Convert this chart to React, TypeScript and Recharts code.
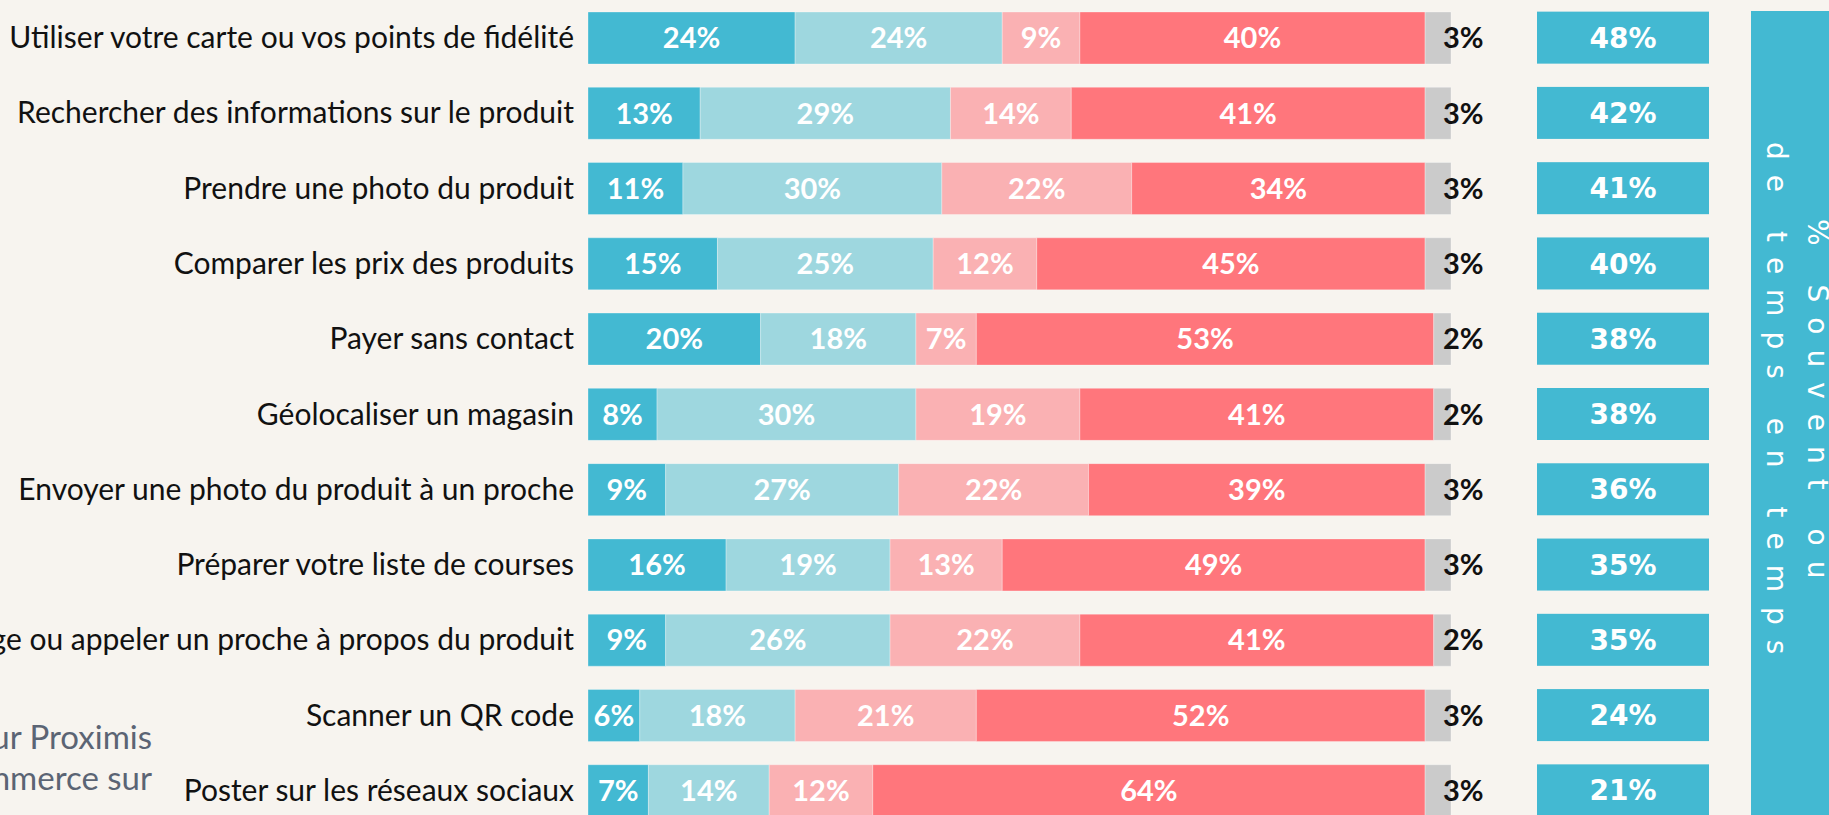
import { BarChart, Bar, XAxis, YAxis, LabelList } from "recharts";

const activities = [
  "Utiliser votre carte ou vos points de fidélité",
  "Rechercher des informations sur le produit",
  "Prendre une photo du produit",
  "Comparer les prix des produits",
  "Payer sans contact",
  "Géolocaliser un magasin",
  "Envoyer une photo du produit à un proche",
  "Préparer votre liste de courses",
  "Envoyer un message ou appeler un proche à propos du produit",
  "Scanner un QR code",
  "Poster sur les réseaux sociaux",
];

const tresSouvent = [24, 13, 11, 15, 20, 8, 9, 16, 9, 6, 7];
const deTempsEnTemps = [24, 29, 30, 25, 18, 30, 27, 19, 26, 18, 14];
const rarement = [9, 14, 22, 12, 7, 19, 22, 13, 22, 21, 12];
const jamais = [40, 41, 34, 45, 53, 41, 39, 49, 41, 52, 64];
const nsp = [3, 3, 3, 3, 2, 2, 3, 3, 2, 3, 3];
const souventTotal = [48, 42, 41, 40, 38, 38, 36, 35, 35, 24, 21];

const data = activities.map((activity, i) => ({
  activity,
  tresSouvent: tresSouvent[i],
  deTempsEnTemps: deTempsEnTemps[i],
  rarement: rarement[i],
  jamais: jamais[i],
  nsp: nsp[i],
  souvent: souventTotal[i],
}));

const BG = "#F7F4EF";
const TEAL = "#43B9D2";
const pct = (v: any) => `${v}%`;

function LeftTick(props: any) {
  const { x, y, payload } = props;
  return (
    <text
      x={x}
      y={y}
      dy="0.35em"
      textAnchor="end"
      fill="#111"
      fontFamily="Lato"
      fontSize={30}
    >
      {payload.value}
    </text>
  );
}

function TotalTick(props: any) {
  const { x, y, index } = props;
  const row = data[index];
  if (!row) return null;
  return (
    <g>
      <rect x={x + 86} y={y - 26} width={172} height={52} fill={TEAL} />
      <text
        x={x + 172}
        y={y}
        dy="0.36em"
        textAnchor="middle"
        fill="#fff"
        fontFamily="DejaVu Sans"
        fontWeight="bold"
        fontSize={28}
      >
        {row.souvent}%
      </text>
    </g>
  );
}

const inner = {
  fill: "#fff",
  fontFamily: "Lato",
  fontWeight: 700,
  fontSize: 29,
};

export default function App() {
  return (
    <div
      style={{
        position: "absolute",
        left: 0,
        top: 0,
        width: 1829,
        height: 815,
        overflow: "hidden",
        background: BG,
      }}
    >
      <BarChart
        layout="vertical"
        width={1829}
        height={828}
        data={data}
        margin={{ top: 0, right: 0, bottom: 0, left: 0 }}
        barSize={52}
      >
        <XAxis type="number" domain={[0, 100]} hide />
        <YAxis
          yAxisId="left"
          type="category"
          dataKey="activity"
          width={588}
          axisLine={false}
          tickLine={false}
          tickSize={0}
          tickMargin={14}
          interval={0}
          tick={<LeftTick />}
        />
        <YAxis
          yAxisId="right"
          orientation="right"
          type="category"
          dataKey="activity"
          width={378}
          axisLine={false}
          tickLine={false}
          tickSize={0}
          tickMargin={0}
          interval={0}
          tick={<TotalTick />}
        />
        <Bar yAxisId="left" dataKey="tresSouvent" stackId="s" fill={TEAL} stroke="rgba(255,255,255,0.3)" isAnimationActive={false}>
          <LabelList dataKey="tresSouvent" position="center" formatter={pct} style={inner} />
        </Bar>
        <Bar yAxisId="left" dataKey="deTempsEnTemps" stackId="s" fill="#9ED7DF" stroke="rgba(255,255,255,0.3)" isAnimationActive={false}>
          <LabelList dataKey="deTempsEnTemps" position="center" formatter={pct} style={inner} />
        </Bar>
        <Bar yAxisId="left" dataKey="rarement" stackId="s" fill="#FAB1B3" stroke="rgba(255,255,255,0.3)" isAnimationActive={false}>
          <LabelList dataKey="rarement" position="center" formatter={pct} style={inner} />
        </Bar>
        <Bar yAxisId="left" dataKey="jamais" stackId="s" fill="#FF767C" stroke="rgba(255,255,255,0.3)" isAnimationActive={false}>
          <LabelList dataKey="jamais" position="center" formatter={pct} style={inner} />
        </Bar>
        <Bar yAxisId="left" dataKey="nsp" stackId="s" fill="#CBCBCB" stroke="rgba(255,255,255,0.3)" isAnimationActive={false}>
          <LabelList
            dataKey="nsp"
            position="right"
            offset={-8}
            formatter={pct}
            style={{ fill: "#111", fontFamily: "Lato", fontWeight: 700, fontSize: 29 }}
          />
        </Bar>
      </BarChart>

      <div
        style={{
          position: "absolute",
          left: 1751,
          top: 11,
          width: 120,
          height: 900,
          background: TEAL,
        }}
      />
      <div
        style={{
          position: "absolute",
          left: 1756,
          top: 11,
          width: 82,
          height: 790,
          writingMode: "vertical-rl",
          textAlign: "center",
          lineHeight: "41px",
          color: "#fff",
          fontFamily: "DejaVu Sans",
          fontSize: 28,
          letterSpacing: 15,
          whiteSpace: "nowrap",
        }}
      >
        % Souvent ou
        <br />
        de temps en temps
      </div>

      <div
        style={{
          position: "absolute",
          right: 1829 - 152,
          top: 716,
          lineHeight: "41px",
          color: "#5B6474",
          fontFamily: "Lato",
          fontSize: 33,
          textAlign: "right",
          whiteSpace: "nowrap",
        }}
      >
        ur Proximis
        <br />
        mmerce sur
      </div>
    </div>
  );
}
